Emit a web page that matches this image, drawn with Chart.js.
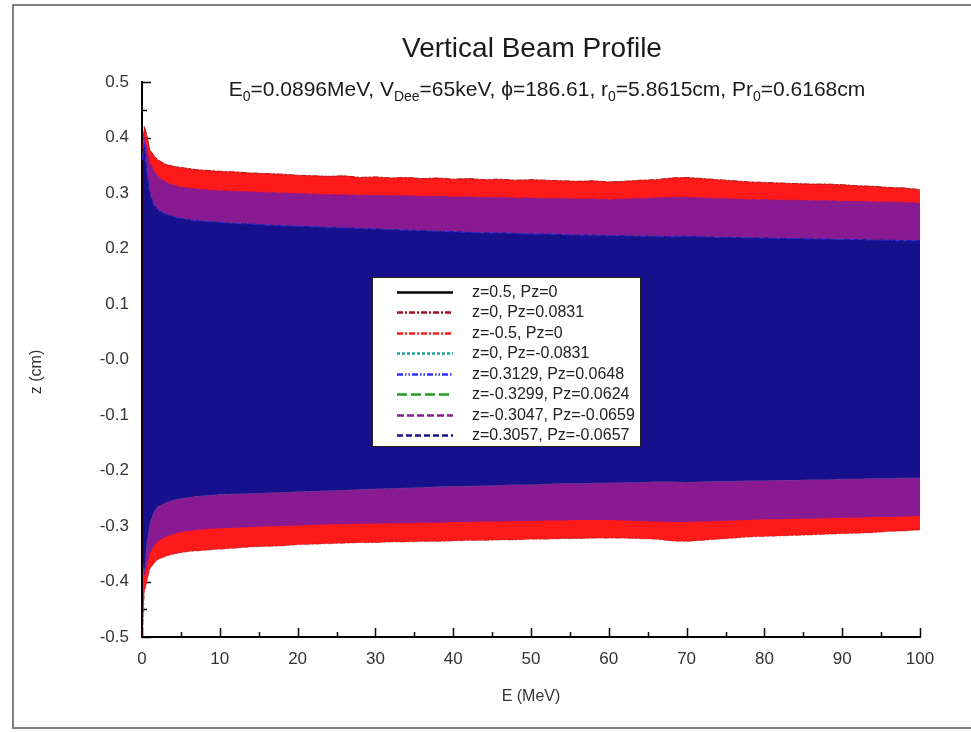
<!DOCTYPE html>
<html>
<head>
<meta charset="utf-8">
<script src="https://cdn.jsdelivr.net/npm/chart.js@4.4.1/dist/chart.umd.min.js"></script>
<style>
  html, body { margin: 0; padding: 0; background: #fff; }
  canvas { display: block; }
</style>
</head>
<body>
<canvas id="chart" width="971" height="732"></canvas>
<script>
const energy = [0.09, 0.3, 0.6, 1, 1.5, 2, 3, 4, 5, 6, 7, 8, 9, 10,
  12, 14, 16, 18, 20, 22, 24, 26, 28, 30,
  32, 34, 36, 38, 40, 42, 44, 46, 48, 50,
  52, 54, 56, 58, 60, 62, 64, 66, 68, 70,
  72, 74, 76, 78, 80, 82, 84, 86, 88, 90,
  92, 94, 96, 98, 100];

// outer (red) envelope
const redUpper = [0.38, 0.42, 0.405, 0.378, 0.368, 0.36, 0.352, 0.348, 0.346, 0.344, 0.342, 0.341, 0.34, 0.339,
  0.338, 0.336, 0.335, 0.334, 0.332, 0.331, 0.33, 0.331, 0.328, 0.329,
  0.327, 0.328, 0.326, 0.327, 0.325, 0.326, 0.324, 0.325, 0.323, 0.324,
  0.323, 0.322, 0.321, 0.322, 0.32, 0.321, 0.323, 0.324, 0.327, 0.328,
  0.326, 0.324, 0.322, 0.32, 0.319, 0.318, 0.317, 0.316, 0.316, 0.315,
  0.313, 0.312, 0.31, 0.309, 0.306];
const redLower = [-0.5, -0.42, -0.402, -0.378, -0.368, -0.361, -0.355, -0.351, -0.348, -0.346, -0.345, -0.344, -0.343, -0.342,
  -0.34, -0.338, -0.337, -0.336, -0.334, -0.333, -0.332, -0.331, -0.33, -0.33,
  -0.329, -0.329, -0.328, -0.328, -0.327, -0.326, -0.326, -0.325, -0.325, -0.324,
  -0.324, -0.323, -0.323, -0.322, -0.322, -0.322, -0.323, -0.324, -0.327, -0.328,
  -0.326, -0.324, -0.322, -0.32, -0.319, -0.318, -0.317, -0.316, -0.315, -0.314,
  -0.313, -0.312, -0.31, -0.309, -0.307];

// middle (purple) envelope
const purpleUpper = [0.36, 0.4, 0.38, 0.355, 0.34, 0.33, 0.32, 0.314, 0.311, 0.309, 0.307, 0.306, 0.305, 0.304,
  0.303, 0.302, 0.301, 0.3, 0.299, 0.298, 0.297, 0.297, 0.296, 0.296,
  0.295, 0.295, 0.294, 0.294, 0.293, 0.293, 0.292, 0.292, 0.291, 0.291,
  0.29, 0.29, 0.289, 0.289, 0.288, 0.289, 0.29, 0.291, 0.292, 0.292,
  0.291, 0.29, 0.289, 0.288, 0.288, 0.287, 0.287, 0.286, 0.286, 0.285,
  0.285, 0.284, 0.284, 0.283, 0.282];
const purpleLower = [-0.37, -0.39, -0.375, -0.35, -0.337, -0.328, -0.32, -0.315, -0.311, -0.309, -0.307, -0.306, -0.305, -0.304,
  -0.303, -0.302, -0.301, -0.3, -0.299, -0.298, -0.297, -0.297, -0.296, -0.296,
  -0.295, -0.295, -0.294, -0.294, -0.293, -0.293, -0.292, -0.292, -0.291, -0.291,
  -0.29, -0.29, -0.289, -0.289, -0.289, -0.29, -0.291, -0.292, -0.293, -0.293,
  -0.292, -0.291, -0.29, -0.289, -0.288, -0.288, -0.287, -0.287, -0.286, -0.285,
  -0.285, -0.284, -0.284, -0.283, -0.282];

// inner (navy) envelope
const navyUpper = [0.36, 0.39, 0.34, 0.3, 0.28, 0.27, 0.262, 0.257, 0.254, 0.252, 0.25, 0.249, 0.248, 0.247,
  0.245, 0.244, 0.242, 0.241, 0.24, 0.239, 0.238, 0.237, 0.236, 0.235,
  0.234, 0.233, 0.232, 0.231, 0.23, 0.229, 0.228, 0.228, 0.227, 0.226,
  0.226, 0.225, 0.224, 0.224, 0.223, 0.223, 0.222, 0.222, 0.221, 0.222,
  0.221, 0.22, 0.22, 0.219, 0.219, 0.218, 0.218, 0.217, 0.217, 0.216,
  0.216, 0.215, 0.215, 0.214, 0.214];
const navyLower = [-0.37, -0.38, -0.33, -0.295, -0.275, -0.265, -0.258, -0.253, -0.25, -0.248, -0.246, -0.245, -0.244, -0.243,
  -0.242, -0.241, -0.24, -0.239, -0.238, -0.237, -0.236, -0.235, -0.234, -0.233,
  -0.232, -0.231, -0.23, -0.229, -0.228, -0.228, -0.227, -0.226, -0.225, -0.225,
  -0.224, -0.223, -0.223, -0.222, -0.222, -0.221, -0.221, -0.22, -0.22, -0.221,
  -0.22, -0.219, -0.219, -0.218, -0.218, -0.217, -0.217, -0.216, -0.216, -0.215,
  -0.215, -0.214, -0.214, -0.213, -0.213];

const seriesLabels = ['z=0.5, Pz=0', 'z=0, Pz=0.0831', 'z=-0.5, Pz=0', 'z=0, Pz=-0.0831',
  'z=0.3129, Pz=0.0648', 'z=-0.3299, Pz=0.0624', 'z=-0.3047, Pz=-0.0659', 'z=0.3057, Pz=-0.0657'];
const xTickLabels = ['0', '10', '20', '30', '40', '50', '60', '70', '80', '90', '100'];
const yTickLabels = ['-0.5', '-0.4', '-0.3', '-0.2', '-0.1', '-0.0', '0.1', '0.2', '0.3', '0.4', '0.5'];
const subtitleParts = [['E', 0], ['0', 1], ['=0.0896MeV, V', 0], ['Dee', 1], ['=65keV, \u03D5=186.61, r', 0],
  ['0', 1], ['=5.8615cm, Pr', 0], ['0', 1], ['=0.6168cm', 0]];

const pts = arr => arr.map((z, i) => ({ x: energy[i], y: z }));
const FONT = "'Liberation Sans', Arial, sans-serif";

function line(label, data, color, dash, order, extra) {
  return Object.assign({
    label, data: pts(data), borderColor: color, backgroundColor: color,
    borderWidth: 1, borderDash: dash, pointRadius: 0, fill: false, order,
    legendDash: dash, legendColor: color
  }, extra || {});
}

const datasets = [
  line(seriesLabels[0], redUpper, '#000000', [], 1, { borderWidth: 0.6, borderColor: 'rgba(60,0,0,0.55)' }),
  line(seriesLabels[1], redLower, '#a01020', [6, 2, 2, 2], 2, { borderWidth: 0.6, borderColor: 'rgba(110,0,10,0.6)' }),
  line(seriesLabels[2], redUpper, '#ff1a1a', [6, 2, 2, 2], 7, { fill: 3, backgroundColor: '#ff1a1a' }),
  line('', redLower, '#ff1a1a', [], 7, { borderWidth: 0 }),
  line(seriesLabels[3], navyLower, '#20a0a0', [3, 2], 4, { borderWidth: 0.6 }),
  line(seriesLabels[4], navyUpper, '#3030ff', [6, 2, 1.5, 2, 1.5, 2], 2.5, { borderWidth: 0.8 }),
  line(seriesLabels[5], navyUpper, '#20a020', [10, 4], 4, { borderWidth: 0.6 }),
  line(seriesLabels[6], purpleUpper, '#8c1a93', [7, 3], 5, { fill: 8, backgroundColor: '#8a1a92' }),
  line('', purpleLower, '#8c1a93', [], 5, { borderWidth: 0 }),
  line(seriesLabels[7], navyUpper, '#180f8c', [6, 3], 3, { fill: 10, backgroundColor: '#17108c' }),
  line('', navyLower, '#180f8c', [], 3, { borderWidth: 0 })
];

const decor = {
  id: 'decor',
  beforeDraw(chart) {
    const ctx = chart.ctx;
    ctx.save();
    ctx.fillStyle = '#ffffff';
    ctx.fillRect(0, 0, chart.width, chart.height);
    ctx.strokeStyle = '#808080';
    ctx.lineWidth = 2;
    ctx.strokeRect(13, 5, 990, 723);
    ctx.restore();
  },
  beforeDatasetsDraw(chart) {
    // inward tick marks
    const { ctx, scales: { x, y } } = chart;
    ctx.save();
    ctx.strokeStyle = '#000';
    ctx.lineWidth = 1.5;
    ctx.beginPath();
    for (let v = 0; v <= 100; v += 5) {
      const px = Math.round(x.getPixelForValue(v)) + 0.5;
      const len = v % 10 === 0 ? 9 : 5;
      ctx.moveTo(px, y.bottom);
      ctx.lineTo(px, y.bottom - len);
    }
    for (let k = 0; k <= 20; k++) {
      const py = Math.round(y.getPixelForValue(-0.5 + k * 0.05)) + 0.5;
      const len = k % 2 === 0 ? 9 : 5;
      ctx.moveTo(x.left, py);
      ctx.lineTo(x.left + len, py);
    }
    ctx.stroke();
    ctx.restore();
  },
  afterDraw(chart) {
    const ctx = chart.ctx;
    const area = chart.chartArea;
    const cx = (area.left + area.right) / 2;
    ctx.save();
    ctx.fillStyle = '#1a1a1a';
    ctx.textAlign = 'center';
    ctx.textBaseline = 'alphabetic';
    ctx.font = '28px ' + FONT;
    ctx.fillText('Vertical Beam Profile', cx + 1, 57);

    // subtitle with subscripts
    const big = '21px ' + FONT, small = '14px ' + FONT;
    let total = 0;
    subtitleParts.forEach(([t, s]) => { ctx.font = s ? small : big; total += ctx.measureText(t).width; });
    let sx = 547 - total / 2;
    ctx.textAlign = 'left';
    subtitleParts.forEach(([t, s]) => {
      ctx.font = s ? small : big;
      ctx.fillText(t, sx, s ? 101 : 96);
      sx += ctx.measureText(t).width;
    });

    // axis titles
    ctx.fillStyle = '#333';
    ctx.font = '16px ' + FONT;
    ctx.textAlign = 'center';
    ctx.textBaseline = 'middle';
    ctx.fillText('E (MeV)', cx, 697);
    ctx.translate(37, 372);
    ctx.rotate(-Math.PI / 2);
    ctx.fillText('z (cm)', 0, 0);
    ctx.setTransform(1, 0, 0, 1, 0, 0);

    // legend box
    const bx = 372, by = 277, bw = 268, bh = 169;
    ctx.fillStyle = '#ffffff';
    ctx.fillRect(bx, by, bw, bh);
    ctx.strokeStyle = '#222';
    ctx.lineWidth = 1;
    ctx.strokeRect(bx + 0.5, by + 0.5, bw, bh);
    const items = chart.data.datasets.filter(d => d.label);
    items.forEach((d, i) => {
      const ly = Math.round(291.5 + i * 20.5) + 0.5;
      ctx.beginPath();
      ctx.setLineDash(d.legendDash);
      ctx.strokeStyle = d.legendColor;
      ctx.lineWidth = 2.5;
      ctx.moveTo(397, ly);
      ctx.lineTo(453, ly);
      ctx.stroke();
      ctx.setLineDash([]);
      ctx.fillStyle = '#222';
      ctx.font = '16px ' + FONT;
      ctx.textAlign = 'left';
      ctx.textBaseline = 'middle';
      ctx.fillText(d.label, 472, ly);
    });
    ctx.restore();
  }
};

Chart.defaults.font.family = FONT;

new Chart(document.getElementById('chart'), {
  type: 'line',
  data: { datasets },
  options: {
    responsive: false,
    animation: false,
    devicePixelRatio: 1,
    layout: { padding: { top: 82, right: 51, left: 0, bottom: 0 } },
    elements: { line: { tension: 0 }, point: { radius: 0 } },
    plugins: {
      legend: { display: false },
      tooltip: { enabled: false },
      filler: { propagate: false }
    },
    scales: {
      x: {
        type: 'linear', min: 0, max: 100,
        afterFit(s) { s.height = 95; },
        grid: { display: false, drawTicks: false },
        border: { display: true, color: '#000', width: 2 },
        ticks: { stepSize: 10, padding: 12, color: '#333', font: { size: 17 },
          callback: (v, i) => xTickLabels[i] }
      },
      y: {
        type: 'linear', min: -0.5, max: 0.5,
        afterFit(s) { s.width = 142; },
        grid: { display: false, drawTicks: false },
        border: { display: true, color: '#000', width: 2 },
        ticks: { stepSize: 0.1, padding: 13, color: '#333', font: { size: 17 },
          callback: (v, i) => yTickLabels[i] }
      }
    }
  },
  plugins: [decor]
});
</script>
</body>
</html>
